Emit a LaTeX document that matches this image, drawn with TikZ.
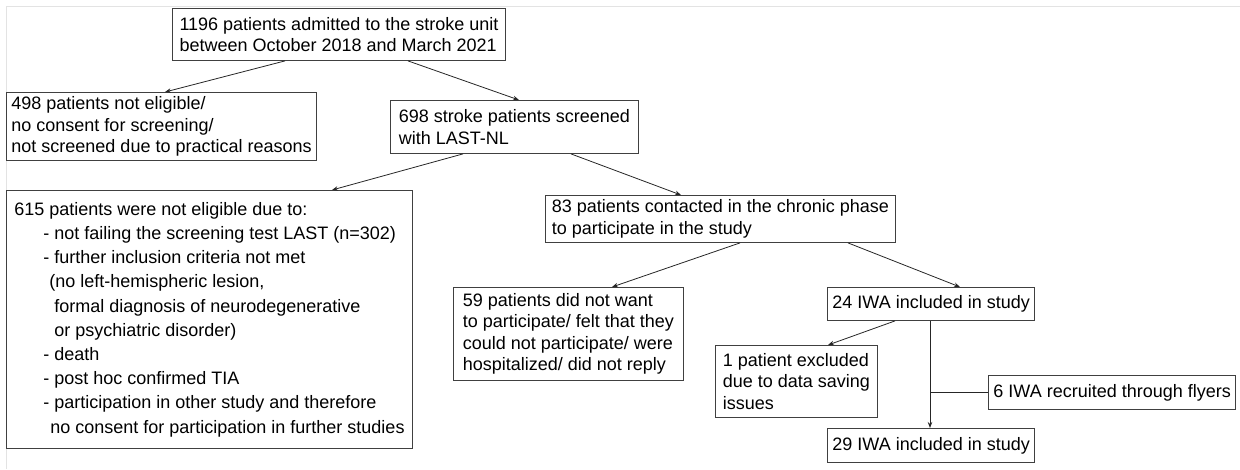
\documentclass[tikz,border=0pt]{standalone}
\usepackage{fontspec}
\setmainfont{Liberation Sans}
\usetikzlibrary{arrows.meta}
\newcommand\fs{\fontsize{18}{21.5}\selectfont}
\newcommand\fsd{\fontsize{18}{24.2}\selectfont}
\tikzset{
  box/.style={draw=black!75, line width=0.9pt, align=left, inner xsep=5pt, inner ysep=3pt, anchor=north west, font=\fs, text=black},
  arr/.style={draw=black!85, line width=0.8pt, -{Stealth[length=6pt,width=4.5pt]}},
  ln/.style={draw=black!85, line width=0.8pt},
  pageedge/.style={draw=gray!22, line width=1pt}
}
\begin{document}
\begin{tikzpicture}[x=1pt,y=-1pt]
\useasboundingbox (0,0) rectangle (1240,469);
\draw[pageedge] (6,6.5) -- (1240,6.5);
\draw[pageedge] (6.5,6) -- (6.5,469);

\node[box, minimum width=333, minimum height=52] (A) at (172,8)
  {1196 patients admitted to the stroke unit\\between October 2018 and March 2021};
\node[box, minimum width=310, minimum height=68] (B) at (6,92)
  {498 patients not eligible/\\no consent for screening/\\not screened due to practical reasons};
\node[box, minimum width=248, minimum height=53] (C) at (390,100)
  {698 stroke patients screened\\with LAST-NL};
\node[box, font=\fsd, minimum width=406, minimum height=258] (D) at (6,190)
  {615 patients were not eligible due to:\\
   \hspace*{29pt}- not failing the screening test LAST (n=302)\\
   \hspace*{29pt}- further inclusion criteria not met\\
   \hspace*{35pt}(no left-hemispheric lesion,\\
   \hspace*{40pt}formal diagnosis of neurodegenerative\\
   \hspace*{40pt}or psychiatric disorder)\\
   \hspace*{29pt}- death\\
   \hspace*{29pt}- post hoc confirmed TIA\\
   \hspace*{29pt}- participation in other study and therefore\\
   \hspace*{36pt}no consent for participation in further studies};
\node[box, minimum width=350, minimum height=47] (E) at (545,195)
  {83 patients contacted in the chronic phase\\to participate in the study};
\node[box, minimum width=230, minimum height=93] (F) at (453,287)
  {59 patients did not want\\to participate/ felt that they\\could not participate/ were\\hospitalized/ did not reply};
\node[box, minimum width=205, minimum height=33] (G) at (827,287)
  {24 IWA included in study};
\node[box, minimum width=162, minimum height=72] (H) at (715,345)
  {1 patient excluded\\due to data saving\\issues};
\node[box, minimum width=245, minimum height=34] (I) at (988,375)
  {6 IWA recruited through flyers};
\node[box, minimum width=205, minimum height=34] (J) at (827,428)
  {29 IWA included in study};

\draw[arr] (285,0 |- A.south) -- (165,0 |- B.north);
\draw[arr] (408,0 |- A.south) -- (519,0 |- C.north);
\draw[arr] (463,0 |- C.south) -- (332,0 |- D.north);
\draw[arr] (571,0 |- C.south) -- (681,0 |- E.north);
\draw[arr] (740,0 |- E.south) -- (612,0 |- F.north);
\draw[arr] (848,0 |- E.south) -- (960,0 |- G.north);
\draw[arr] (895,0 |- G.south) -- (828,0 |- H.north);
\draw[arr] (930,0 |- G.south) -- (930,0 |- J.north);
\coordinate (m) at (930,0 |- I.west);
\draw[ln] (I.west) -- (m);
\end{tikzpicture}
\end{document}
